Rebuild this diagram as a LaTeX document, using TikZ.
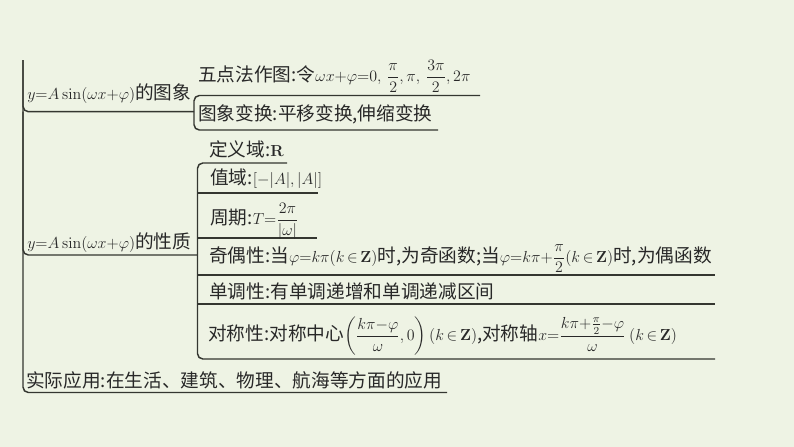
\documentclass[tikz,border=0pt]{standalone}
\usepackage{amsmath}
\usepackage[no-math]{fontspec}
\setmainfont{Noto Sans CJK SC}
\definecolor{bgcolor}{RGB}{238,243,228}
\definecolor{linecolor}{RGB}{52,54,48}
\definecolor{textcolor}{RGB}{40,40,40}
\newcommand{\mth}[1]{{\fontsize{11.5}{14}\selectfont$#1$}}
\tikzset{
  item/.style={anchor=base west, inner sep=0pt, text=textcolor,
    font=\fontsize{14}{16}\selectfont},
  bracket/.style={draw=linecolor, line width=1.1pt, rounded corners=4pt},
}
\begin{document}
\begin{tikzpicture}[x=0.75pt,y=-0.75pt]
    \fill[bgcolor] (0,0) rectangle (794,447);
    \useasboundingbox (0,0) rectangle (794,447);

    %main bracket
    \draw[bracket] (23,60) -- (23,392.5) -- (447,392.5);
    \draw[bracket] (23,60) -- (23,111.7) -- (194,111.7);
    \draw[bracket] (23,111.7) -- (23,255) -- (197.5,255);

    %graph branch
    \draw[bracket] (480,95.5) -- (194,95.5) -- (194,130) -- (438,130);

    %property branch
    \draw[bracket] (287,163) -- (197.5,163) -- (197.5,359) -- (715,359);
    \foreach \yy/\xx in {193/318, 238/317, 275/715, 304/715} {
        \draw[bracket] (197.5,\yy) -- (\xx,\yy);
    }

    \node[item] (graph) at (27,99) {\mth{y{=}A\sin(\omega x{+}\varphi)}的图象};
    \node[item] (prop) at (27,248) {\mth{y{=}A\sin(\omega x{+}\varphi)}的性质};
    \node[item] (apply) at (26,387) {实际应用:在生活、建筑、物理、航海等方面的应用};

    \foreach \nm/\xx/\yy/\txt in {
        wudian/198/81.5/{五点法作图:令\mth{\omega x{+}\varphi{=}0,\,\dfrac{\pi}{2},\pi,\,\dfrac{3\pi}{2},2\pi}},
        bianhuan/198/120.5/{图象变换:平移变换,伸缩变换},
        dingyi/209/156.5/{定义域:\mth{\mathbf{R}}},
        zhiyu/210/184.5/{值域:\mth{[{-}|A|,|A|]}},
        zhouqi/210/224.5/{周期:\mth{T{=}\dfrac{2\pi}{|\omega|}}},
        jiou/209/262/{奇偶性:当\mth{\varphi{=}k\pi(k\,{\in}\,\mathbf{Z})}时,为奇函数;当\mth{\varphi{=}k\pi{+}\dfrac{\pi}{2}(k\,{\in}\,\mathbf{Z})}时,为偶函数},
        dandiao/209/298/{单调性:有单调递增和单调递减区间},
        duichen/208/340.5/{对称性:对称中心\mth{\left(\dfrac{k\pi{-}\varphi}{\omega},0\right)(k\,{\in}\,\mathbf{Z})},对称轴\mth{x{=}\dfrac{k\pi{+}\frac{\pi}{2}{-}\varphi}{\omega}\ (k\,{\in}\,\mathbf{Z})}}
    } {
        \node[item] (\nm) at (\xx,\yy) {\txt};
    }
\end{tikzpicture}
\end{document}
